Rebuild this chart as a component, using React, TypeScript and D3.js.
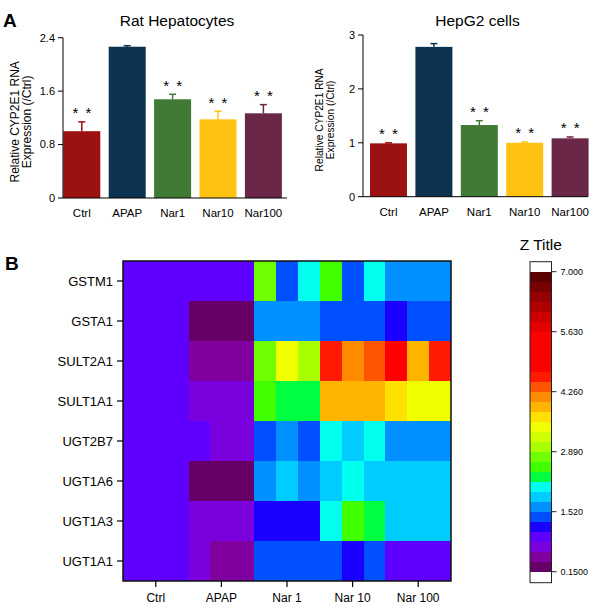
import React from 'react';
import * as d3 from 'd3';

// panel A data
const groups = ['Ctrl', 'APAP', 'Nar1', 'Nar10', 'Nar100'];
const barColors = ['#9c1111', '#0b3251', '#407a34', '#fec312', '#6a2748'];
const ratMean = [1.0, 2.265, 1.478, 1.178, 1.268];
const ratErr = [0.14, 0.015, 0.075, 0.12, 0.13];
const ratStars = [true, false, true, true, true];
const hepMean = [0.99, 2.78, 1.33, 1.0, 1.083];
const hepErr = [0.01, 0.06, 0.08, 0.015, 0.025];
const hepStars = [true, false, true, true, true];
const ratTicks = [0, 0.8, 1.6, 2.4];
const hepTicks = [0, 1, 2, 3];

// panel B data
const genes = ['GSTM1', 'GSTA1', 'SULT2A1', 'SULT1A1', 'UGT2B7', 'UGT1A6', 'UGT1A3', 'UGT1A1'];
const treatments = ['Ctrl', 'APAP', 'Nar 1', 'Nar 10', 'Nar 100'];
const replicates = 3;
const heat = [
  [1.0, 1.0, 1.0, 1.0, 1.0, 1.0, 2.8, 1.4, 2.1, 2.55, 1.4, 2.1, 1.6, 1.6, 1.6],
  [1.0, 1.0, 1.0, 0.25, 0.25, 0.25, 1.6, 1.6, 1.6, 1.4, 1.4, 1.4, 1.2, 1.4, 1.4],
  [1.0, 1.0, 1.0, 0.5, 0.5, 0.5, 2.8, 3.45, 3.0, 4.6, 4.15, 4.4, 4.8, 3.9, 4.6],
  [1.0, 1.0, 1.0, 0.7, 0.7, 0.7, 2.55, 2.3, 2.3, 3.9, 3.9, 3.9, 3.7, 3.45, 3.45],
  [1.0, 1.0, 1.0, 1.0, 0.7, 0.7, 1.4, 1.6, 1.4, 2.1, 1.85, 2.1, 1.6, 1.6, 1.6],
  [1.0, 1.0, 1.0, 0.25, 0.25, 0.25, 1.6, 1.85, 1.6, 1.85, 2.1, 1.85, 1.85, 1.85, 1.85],
  [1.0, 1.0, 1.0, 0.7, 0.7, 0.7, 1.2, 1.2, 1.2, 2.1, 2.55, 2.3, 1.85, 1.85, 1.85],
  [1.0, 1.0, 1.0, 0.7, 0.5, 0.5, 1.4, 1.4, 1.4, 1.4, 1.2, 1.4, 1.0, 1.0, 1.0],
];
const zMin = 0.15, zMax = 7.0;
const zTicks = [0.15, 1.52, 2.89, 4.26, 5.63, 7.0];
// 30 levels, low -> high
const levelColors = [
  '#660066', '#80009f', '#7a00dd', '#5f00ff', '#1a00ff', '#0050ff', '#0090ff', '#00ccff',
  '#00ffee', '#00ff40', '#40ff00', '#70ff00', '#a8ff00', '#d0ff00', '#f0ff00', '#ffe000',
  '#ffb400', '#ff8c00', '#ff5500', '#ff1a00', '#ff0000', '#ff0000', '#ff0000', '#ff0000',
  '#e40000', '#cc0000', '#b00000', '#960000', '#780000', '#5c0000',
];

const FONT = '"Liberation Sans", Arial, sans-serif';

const BarPanel = ({ title, means, errs, stars, ticks, yMax, left, top, bottom, axisEnd, barStart, labelSize, labelX }) => {
  const x = d3.scaleBand().domain(groups).range([barStart, barStart + 218.6]).paddingInner(0.185).paddingOuter(0);
  const y = d3.scaleLinear().domain([0, yMax]).range([bottom, top]);
  const cy = (top + bottom) / 2 + 4;
  return <g fontFamily={FONT}>
    <text x={(left + axisEnd) / 2 + 2} y={26} textAnchor='middle' fontSize={15.5}>{title}</text>
    {/* bars */}
    {groups.map((g, i) => {
      const bx = x(g) as number;
      const cx = bx + x.bandwidth() / 2;
      const yt = y(means[i] + errs[i]);
      return <g key={g}>
        <rect x={bx} y={y(means[i])} width={x.bandwidth()} height={bottom - y(means[i])} fill={barColors[i]} />
        <line x1={cx} x2={cx} y1={y(means[i])} y2={yt} stroke={barColors[i]} strokeWidth={1.5} />
        <line x1={cx - 3.5} x2={cx + 3.5} y1={yt} y2={yt} stroke={barColors[i]} strokeWidth={1.5} />
        {stars[i] && [-6.5, 6.5].map(d =>
          <text key={d} x={cx + d} y={yt - 3.5} textAnchor='middle' fontSize={15}>*</text>)}
        <text x={cx} y={bottom + 19} textAnchor='middle' fontSize={11.5}>{g}</text>
      </g>;
    })}
    {/* axes */}
    <line x1={left} x2={left} y1={top} y2={bottom} stroke='#000' />
    <line x1={left} x2={axisEnd} y1={bottom} y2={bottom} stroke='#000' />
    {ticks.map(t => <g key={t}>
      <line x1={left - 5} x2={left} y1={y(t)} y2={y(t)} stroke='#000' />
      <text x={left - 8} y={y(t)} dy='0.35em' textAnchor='end' fontSize={11}>{t}</text>
    </g>)}
    <text transform={`translate(${labelX[0]},${cy}) rotate(-90)`} textAnchor='middle' fontSize={labelSize}>Relative CYP2E1 RNA</text>
    <text transform={`translate(${labelX[1]},${cy}) rotate(-90)`} textAnchor='middle' fontSize={labelSize}>Expression (/Ctrl)</text>
  </g>;
};

const App = () => {
  // heatmap
  const hx0 = 123, hx1 = 451, hy0 = 261, hy1 = 581;
  const cols = d3.range(treatments.length * replicates);
  const hx = d3.scaleBand<number>().domain(cols).range([hx0, hx1]);
  const hy = d3.scaleBand().domain(genes).range([hy0, hy1]);
  const color = d3.scaleQuantize<string>().domain([zMin, zMax]).range(levelColors);

  // colour bar
  const cbx = 530, cbw = 21.5;
  const cy = d3.scaleLinear().domain([zMin, zMax]).range([571.7, 271.7]);
  const step = (zMax - zMin) / levelColors.length;

  return <svg width={600} height={610} style={{ position: 'absolute', left: 0, top: 0, background: '#fff' }}>
    <text x={3} y={26.5} fontFamily={FONT} fontWeight='bold' fontSize={19}>A</text>
    <BarPanel title='Rat Hepatocytes' means={ratMean} errs={ratErr} stars={ratStars} ticks={ratTicks}
      yMax={2.4} left={63} top={37.7} bottom={198} axisEnd={287} barStart={63.3} labelSize={12} labelX={[19, 31]} />
    <BarPanel title='HepG2 cells' means={hepMean} errs={hepErr} stars={hepStars} ticks={hepTicks}
      yMax={3} left={363} top={35} bottom={196.7} axisEnd={588} barStart={370} labelSize={10.2} labelX={[323, 334]} />

    <text x={5} y={269.5} fontFamily={FONT} fontWeight='bold' fontSize={19}>B</text>
    <g shapeRendering='crispEdges'>
      {genes.map((g, r) => heat[r].map((v, c) =>
        <rect key={g + c} x={hx(c)} y={hy(g)} width={hx.bandwidth()} height={hy.bandwidth()} fill={color(v)} />))}
    </g>
    <rect x={hx0} y={hy0} width={hx1 - hx0} height={hy1 - hy0} fill='none' stroke='#111' strokeWidth={1.5} />
    <g fontFamily={FONT}>
      {genes.map(g => {
        const yy = (hy(g) as number) + hy.bandwidth() / 2;
        return <g key={g}>
          <line x1={hx0 - 6} x2={hx0} y1={yy} y2={yy} stroke='#000' strokeWidth={1.2} />
          <text x={hx0 - 10} y={yy} dy='0.36em' textAnchor='end' fontSize={13}>{g}</text>
        </g>;
      })}
      {treatments.map((t, i) => {
        const xx = (hx(i * replicates + 1) as number) + hx.bandwidth() / 2;
        return <g key={t}>
          <line x1={xx} x2={xx} y1={hy1} y2={hy1 + 6} stroke='#000' strokeWidth={1.2} />
          <text x={xx} y={602} textAnchor='middle' fontSize={12}>{t}</text>
        </g>;
      })}
    </g>

    {/* colour scale */}
    <g fontFamily={FONT}>
      <text x={cbx + cbw / 2} y={250} textAnchor='middle' fontSize={15.5}>Z Title</text>
      <g shapeRendering='crispEdges'>
        {levelColors.map((c, i) =>
          <rect key={i} x={cbx} y={cy(zMin + (i + 1) * step)} width={cbw} height={cy(zMin) - cy(zMin + step)} fill={c} />)}
      </g>
      <rect x={cbx} y={261.7} width={cbw} height={321} fill='none' stroke='#222' strokeWidth={1} />
      {zTicks.map(t => <g key={t}>
        <line x1={cbx + cbw} x2={cbx + cbw + 5} y1={cy(t)} y2={cy(t)} stroke='#222' />
        <text x={cbx + cbw + 9} y={cy(t)} dy='0.35em' fontSize={9}>{t === zMin ? '0.1500' : d3.format('.3f')(t)}</text>
      </g>)}
    </g>
  </svg>;
};

export default App;
